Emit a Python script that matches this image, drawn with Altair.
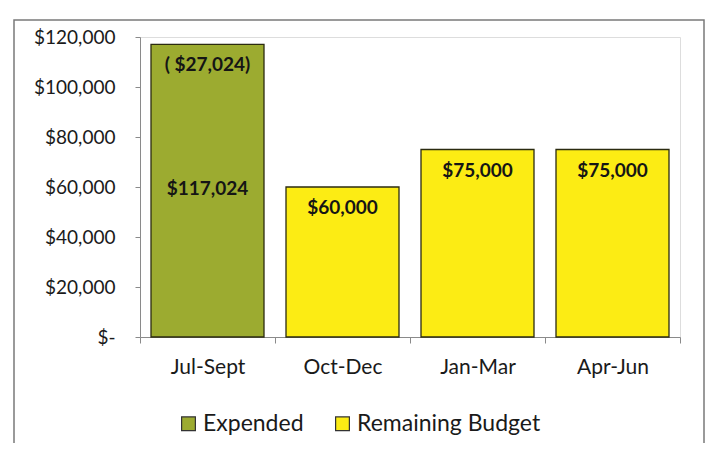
import altair as alt
import pandas as pd

quarters = ["Jul-Sept", "Oct-Dec", "Jan-Mar", "Apr-Jun"]
series = ["Expended", "Remaining Budget", "Remaining Budget", "Remaining Budget"]
values = [117024, 60000, 75000, 75000]
top_labels = ["( $27,024)", "$60,000", "$75,000", "$75,000"]
mid_labels = ["$117,024", "", "", ""]
y_ticks = [0, 20000, 40000, 60000, 80000, 100000, 120000]

df = pd.DataFrame({
    "quarter": quarters,
    "series": series,
    "value": values,
    "top": top_labels,
    "mid": mid_labels,
})

FONT = "Lato"

x = alt.X("quarter:N", sort=quarters, title=None,
          scale=alt.Scale(paddingInner=0, paddingOuter=0),
          axis=alt.Axis(labelAngle=0, tickBand="extent", tickSize=6,
                        labelPadding=13, labelFontSize=21, labelFont=FONT,
                        labelColor="#1a1a1a", domainColor="#8a8a8a",
                        tickColor="#8a8a8a", grid=False))
y = alt.Y("value:Q", title=None,
          scale=alt.Scale(domain=[0, 120000], nice=False),
          axis=alt.Axis(values=y_ticks, tickSize=5, labelPadding=20,
                        labelFontSize=19, labelFont=FONT, labelColor="#1a1a1a",
                        domainColor="#8a8a8a", tickColor="#8a8a8a", grid=False,
                        labelExpr="datum.value == 0 ? '$-' : '$' + format(datum.value, ',')"))

base = alt.Chart(df)

bars = base.mark_bar(size=113, stroke="#2b2b10", strokeWidth=1.3).encode(
    x=x, y=y,
    color=alt.Color("series:N",
                    scale=alt.Scale(domain=["Expended", "Remaining Budget"],
                                    range=["#9cab30", "#fcec14"]),
                    legend=alt.Legend(title=None, orient="none", direction="horizontal",
                                      legendX=37, legendY=375, labelLimit=400,
                                      symbolType="square", symbolSize=190,
                                      symbolStrokeColor="#333333", symbolStrokeWidth=1.2,
                                      labelFontSize=23, labelFont=FONT, labelColor="#1a1a1a",
                                      columnPadding=27, symbolOffset=0, labelOffset=3)),
)

top_text = base.mark_text(dy=21, baseline="middle", fontSize=19, fontWeight="bold",
                          font=FONT, color="#151515").encode(
    x=alt.X("quarter:N", sort=quarters), y="value:Q", text="top:N")

mid_text = base.transform_filter("datum.mid != ''").transform_calculate(
    half="datum.value / 2").mark_text(baseline="middle", dy=-2, fontSize=19, fontWeight="bold",
                                      font=FONT, color="#151515").encode(
    x=alt.X("quarter:N", sort=quarters), y="half:Q", text="mid:N")

frame = alt.Chart(alt.Data(values=[{"f": 1}])).mark_rect(
    fill="white", fillOpacity=0, stroke="#7a7a7a", strokeWidth=1.5).encode(
    x=alt.value(-126), x2=alt.value(564), y=alt.value(-17), y2=alt.value(440))

chart = alt.layer(frame, bars, top_text, mid_text).properties(
    width=540, height=300,
    autosize=alt.AutoSizeParams(type="none"),
    padding={"left": 132, "top": 29, "right": 26, "bottom": 106},
).configure_view(fill="#f2f3e2", stroke=None).configure(background="white")

chart.save("out.html", embed_options={"renderer": "svg", "actions": False})
